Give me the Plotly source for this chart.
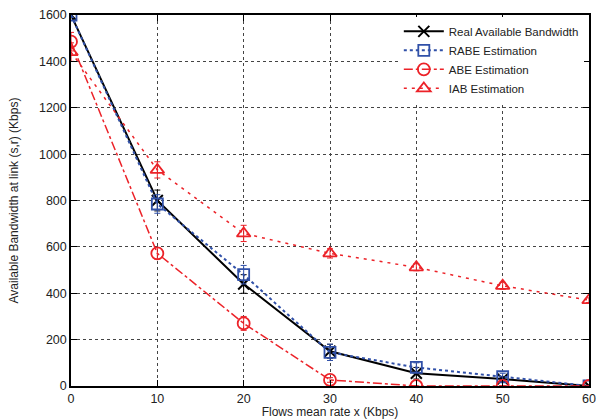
import plotly.graph_objects as go

x = [0, 10, 20, 30, 40, 50, 60]
real = [1600, 800, 440, 150, 55, 30, 0]
rabe = [1600, 785, 480, 145, 80, 40, 0]
abe = [1485, 572, 270, 26, 0, 0, 0]
iab = [1440, 932, 658, 572, 512, 432, 370]

real_err = [10, 45, 40, 30, 25, 10, 0]
rabe_err = [10, 40, 40, 35, 20, 15, 0]
abe_err = [40, 25, 30, 10, 0, 0, 0]
iab_err = [40, 35, 35, 20, 15, 15, 10]

BLUE = "#3050a8"
RED = "#ec2228"

fig = go.Figure()
fig.add_trace(go.Scatter(
    x=x, y=real, name="Real Available Bandwidth", mode="lines+markers",
    line=dict(color="black", width=2, dash="solid"),
    marker=dict(symbol="x-thin-open", size=11, line=dict(color="black", width=2)),
    error_y=dict(type="data", array=real_err, color="black", thickness=1, width=3),
))
fig.add_trace(go.Scatter(
    x=x, y=rabe, name="RABE Estimation", mode="lines+markers",
    line=dict(color=BLUE, width=2, dash="dot"),
    marker=dict(symbol="square-open", size=11, color=BLUE, line=dict(color=BLUE, width=1.8)),
    error_y=dict(type="data", array=rabe_err, color=BLUE, thickness=1, width=3),
))
fig.add_trace(go.Scatter(
    x=x, y=abe, name="ABE Estimation", mode="lines+markers",
    line=dict(color=RED, width=1.5, dash="dashdot"),
    marker=dict(symbol="circle-open", size=12, color=RED, line=dict(color=RED, width=1.8)),
    error_y=dict(type="data", array=abe_err, color=RED, thickness=1, width=3),
))
fig.add_trace(go.Scatter(
    x=x, y=iab, name="IAB Estimation", mode="lines+markers",
    line=dict(color=RED, width=1.5, dash="3px,5px"),
    marker=dict(symbol="triangle-up-open", size=12, color=RED, line=dict(color=RED, width=1.8)),
    error_y=dict(type="data", array=iab_err, color=RED, thickness=1, width=3),
))

axis_common = dict(
    showline=True, linecolor="black", linewidth=1.5, mirror="ticks",
    ticks="inside", ticklen=6, tickcolor="black",
    showgrid=True, gridcolor="#444444", griddash="dot", gridwidth=1,
    zeroline=False, tickfont=dict(family="Liberation Sans, Arial", size=12.5, color="#222"),
)

fig.update_layout(
    width=596, height=419,
    margin=dict(l=71, r=7, t=15, b=33),
    paper_bgcolor="white", plot_bgcolor="white",
    font=dict(family="Liberation Sans, Arial", color="#222"),
    xaxis=dict(range=[0, 60], dtick=10, **axis_common,
               title=dict(text="Flows mean rate x (Kbps)", font=dict(size=12), standoff=6),
               automargin=False),
    yaxis=dict(range=[0, 1600], dtick=200, **axis_common,
               title=dict(text="Available Bandwidth at link (s,r) (Kbps)", font=dict(size=12), standoff=18),
               automargin=False),
    legend=dict(x=0.99, y=0.995, xanchor="right", yanchor="top",
                bgcolor="white", borderwidth=0,
                font=dict(size=11.5, family="Liberation Sans, Arial", color="#222"),
                tracegroupgap=0, itemwidth=40),
    showlegend=True,
)

fig.write_html("out.html", config={"displayModeBar": False},
               post_script="document.body.style.margin='0';document.body.style.overflow='hidden';")
